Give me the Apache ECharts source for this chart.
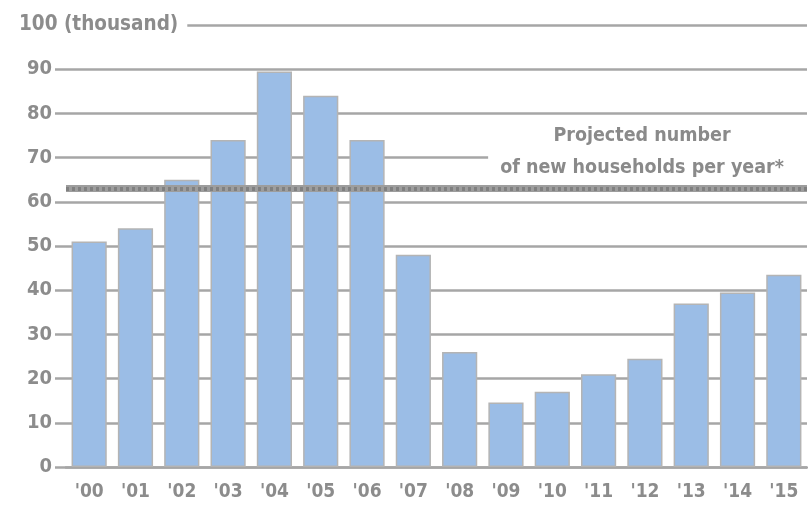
<!DOCTYPE html>
<html>
<head>
<meta charset="utf-8">
<script src="https://cdn.jsdelivr.net/npm/echarts@6/dist/echarts.min.js"></script>
<style>
  html, body { margin: 0; padding: 0; background: #fff; }
  #chart { width: 808px; height: 505px; }
</style>
</head>
<body>
<div id="chart"></div>
<script>
// Annual new housing units, thousands
const years = ["'00", "'01", "'02", "'03", "'04", "'05", "'06", "'07", "'08", "'09", "'10", "'11", "'12", "'13", "'14", "'15"];
const units = [51, 54, 65, 74, 89.5, 84, 74, 48, 26, 14.6, 17, 21, 24.5, 37, 39.5, 43.5];
const projected = 63;
const yTicks = [0, 10, 20, 30, 40, 50, 60, 70, 80, 90, 100];

const FONT = '"DejaVu Sans Condensed", "DejaVu Sans", sans-serif';
const GRID_COLOR = '#a6a6a6';
const TEXT_COLOR = '#8c8c8c';

const chart = echarts.init(document.getElementById('chart'));
chart.setOption({
  animation: false,
  title: {
    text: '100 (thousand)',
    left: 17,
    top: 13,
    padding: [0, 9, 0, 2],
    backgroundColor: '#fff',
    textStyle: { fontFamily: FONT, fontSize: 20.5, fontWeight: 'bold', color: TEXT_COLOR, lineHeight: 24 }
  },
  grid: { left: 66, right: 1, top: 25, bottom: 38 },
  xAxis: {
    type: 'category',
    data: years,
    axisLine: { show: true, lineStyle: { color: GRID_COLOR, width: 2.5 } },
    axisTick: { show: false },
    axisLabel: { fontFamily: FONT, fontSize: 19, fontWeight: 'bold', color: TEXT_COLOR, margin: 16 }
  },
  yAxis: {
    type: 'value',
    min: 0,
    max: yTicks[yTicks.length - 1],
    interval: 10,
    axisLine: { show: false },
    axisTick: { show: true, inside: false, length: 11, lineStyle: { color: GRID_COLOR, width: 2.5 } },
    splitLine: { show: true, lineStyle: { color: GRID_COLOR, width: 2.5 } },
    axisLabel: {
      fontFamily: FONT, fontSize: 20, fontWeight: 'bold', color: TEXT_COLOR, margin: 14,
      formatter: v => (v === 100 ? '' : String(v))
    }
  },
  series: [{
    type: 'bar',
    data: units,
    barWidth: '76%',
    itemStyle: { color: '#9bbde6', borderColor: '#b4b4b4', borderWidth: 1.5 },
    markLine: {
      silent: true,
      symbol: 'none',
      label: { show: false },
      data: [
        { yAxis: projected, lineStyle: { type: 'solid', color: '#9d9d9d', width: 7 } },
        { yAxis: projected, lineStyle: { type: [3, 3], color: '#808080', width: 4 } }
      ]
    },
    z: 2
  }],
  graphic: [{
    type: 'text',
    x: 656,
    y: 120,
    z: 10,
    style: {
      text: 'Projected number\nof new households per year*',
      align: 'center',
      verticalAlign: 'top',
      fontFamily: FONT,
      fontSize: 19.5,
      fontWeight: 'bold',
      lineHeight: 32,
      fill: '#8a8a8a',
      backgroundColor: '#fff',
      padding: [0, 40, 0, 12]
    }
  }]
});
</script>
</body>
</html>
